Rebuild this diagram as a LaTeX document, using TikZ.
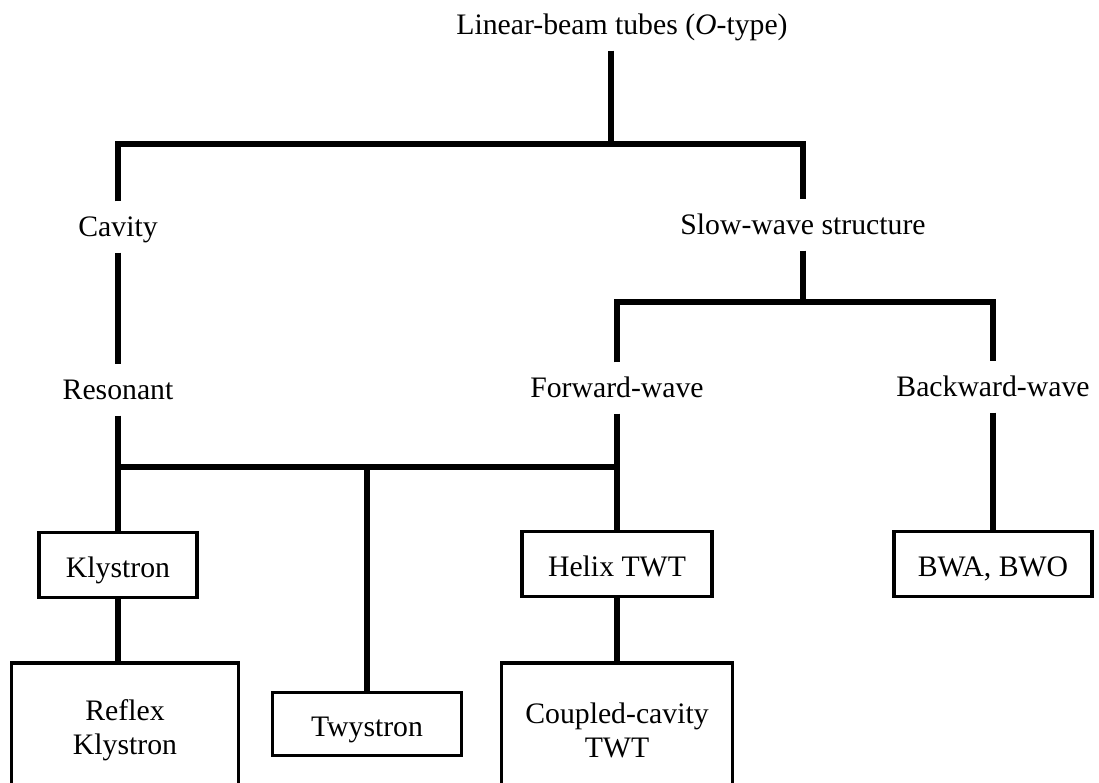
\documentclass[tikz,border=0pt]{standalone}
\usepackage{fontspec}
\setmainfont{Liberation Serif}
\usetikzlibrary{calc}

\begin{document}
\begin{tikzpicture}[x=0.37pt,y=-0.37pt]
    \tikzset{txt/.style={font=\fontsize{11}{12.6}\selectfont, inner xsep=2pt, inner ysep=4.25pt, text height=8.5pt, text depth=1.5pt}}
    \tikzset{tube/.style={draw=black, line width=1.3pt, font=\fontsize{11}{12.6}\selectfont, align=center, inner sep=2pt, minimum height=24pt}}
    \tikzset{oneline/.style={text height=9.5pt, text depth=0pt}}
    \tikzset{branch/.style={line width=2.4pt}}

    \useasboundingbox (0,0) rectangle (1099,782);
    \clip (0,0) rectangle (1099,782);

    \coordinate (bar1) at (611,144);
    \coordinate (bar2) at (803,302);
    \coordinate (bar3) at (367,467);

    %labels
    \node[txt] (title) at (622,25) {Linear-beam tubes (\textit{O}-type)};
    \node[txt] (cavity) at (118,227) {Cavity};
    \node[txt] (slow) at (803,225) {Slow-wave structure};
    \node[txt] (resonant) at (118,390) {Resonant};
    \node[txt] (fwd) at (617,388) {Forward-wave};
    \node[txt] (bwd) at (993,387) {Backward-wave};

    %tubes
    \node[tube, oneline, minimum width=58.5pt] (klystron) at (118,565) {Klystron};
    \node[tube, oneline, minimum width=70.3pt] (helix) at (617,564) {Helix TWT};
    \node[tube, oneline, minimum width=73.3pt] (bwa) at (993,564) {BWA, BWO};
    \node[tube, minimum width=84pt, minimum height=49.6pt] (reflex) at (125,730) {Reflex\\Klystron};
    \node[tube, oneline, minimum width=70pt, minimum height=23.3pt] (twystron) at (367,724) {Twystron};
    \node[tube, minimum width=85.5pt, minimum height=49.6pt] (coupled) at (617,730) {Coupled-cavity\\TWT};

    %tree
    \draw[branch] (title.south -| bar1) -- (bar1);
    \draw[branch] (cavity.north) |- (bar1) -| (slow.north);
    \draw[branch] (cavity) -- (resonant);
    \draw[branch] (slow) -- (bar2);
    \draw[branch] (fwd.north) |- (bar2) -| (bwd.north);

    \draw[branch] (resonant) -- (klystron);
    \draw[branch] (resonant.south |- bar3) -- (fwd.south |- bar3);
    \draw[branch] (bar3) -- (twystron);
    \draw[branch] (fwd) -- (helix);
    \draw[branch] (bwd) -- (bwa);

    \draw[branch] (klystron.south) -- (klystron.south |- reflex.north);
    \draw[branch] (helix) -- (coupled);
\end{tikzpicture}
\end{document}
